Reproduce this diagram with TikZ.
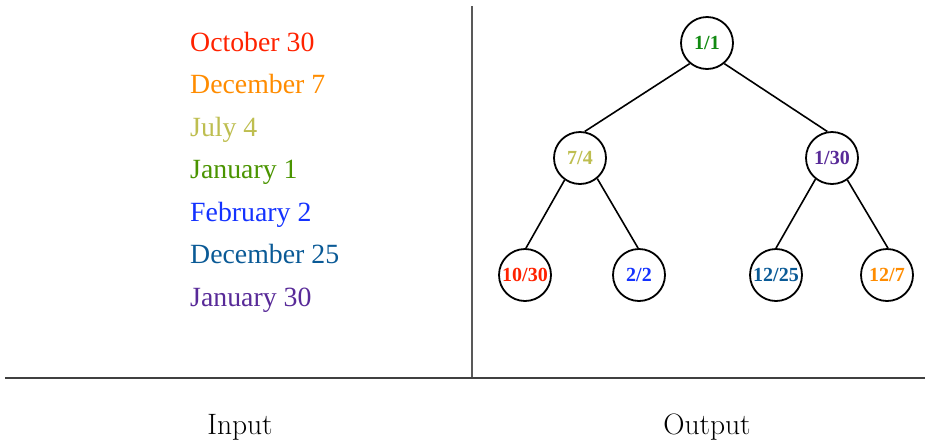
\documentclass[tikz,border=0pt]{standalone}
\usepackage{fontspec}
\newfontfamily\timesf{Liberation Serif}
\definecolor{cRed}{HTML}{FF2200}
\definecolor{cOrange}{HTML}{FF8C00}
\definecolor{cOlive}{HTML}{BEBE50}
\definecolor{cGreenL}{HTML}{4A9400}
\definecolor{cGreenT}{HTML}{128A12}
\definecolor{cBlue}{HTML}{1432FF}
\definecolor{cNavy}{HTML}{0A5A96}
\definecolor{cPurple}{HTML}{582A98}
\begin{document}
\begin{tikzpicture}[x=1pt,y=-1pt,
  inlabel/.style={anchor=base west,inner sep=0pt,font=\timesf\fontsize{27.8}{28}\selectfont},
  tnode/.style={circle,draw=black,line width=1.8pt,minimum size=52pt,inner sep=0pt,font=\timesf\bfseries\fontsize{20}{20}\selectfont},
  edge/.style={line width=1.6pt,black},
  caption/.style={font=\fontsize{29.5}{30}\selectfont}]
\useasboundingbox (0,0) rectangle (926,440);
% divider lines
\coordinate (vtop) at (472,6);
\coordinate (vbot) at (472,378);
\coordinate (hl) at (5,378);
\coordinate (hr) at (925,378);
\draw[line width=1.1pt,gray!70!black] (vtop) -- (vbot);
\draw[line width=1.2pt,black!75] (hl) -- (hr);
% input list
\node[inlabel,text=cRed]    (i1) at (190,51.5)  {October 30};
\node[inlabel,text=cOrange] (i2) at (190,93.9)  {December 7};
\node[inlabel,text=cOlive]  (i3) at (190,136.3) {July 4};
\node[inlabel,text=cGreenL] (i4) at (190,178.7) {January 1};
\node[inlabel,text=cBlue]   (i5) at (190,221.1) {February 2};
\node[inlabel,text=cNavy]   (i6) at (190,263.5) {December 25};
\node[inlabel,text=cPurple] (i7) at (190,306)   {January 30};
% tree
\node[tnode,text=cGreenT] (r)  at (707,43)  {1/1};
\node[tnode,text=cOlive]  (a)  at (580,158) {7/4};
\node[tnode,text=cPurple] (b)  at (832,158) {1/30};
\node[tnode,text=cRed]    (a1) at (525,275) {10/30};
\node[tnode,text=cBlue]   (a2) at (639,275) {2/2};
\node[tnode,text=cNavy]   (b1) at (776,275) {12/25};
\node[tnode,text=cOrange] (b2) at (887,275) {12/7};
\draw[edge] (r.230) -- (a.80);
\draw[edge] (r.310) -- (b.100);
\draw[edge] (a.235) -- (a1.88);
\draw[edge] (a.310) -- (a2.92);
\draw[edge] (b.232) -- (b1.90);
\draw[edge] (b.305) -- (b2.88);
% captions
\node[caption] (cin)  at (240,427.5) {Input};
\node[caption] (cout) at (707,427.5) {Output};
\end{tikzpicture}
\end{document}
